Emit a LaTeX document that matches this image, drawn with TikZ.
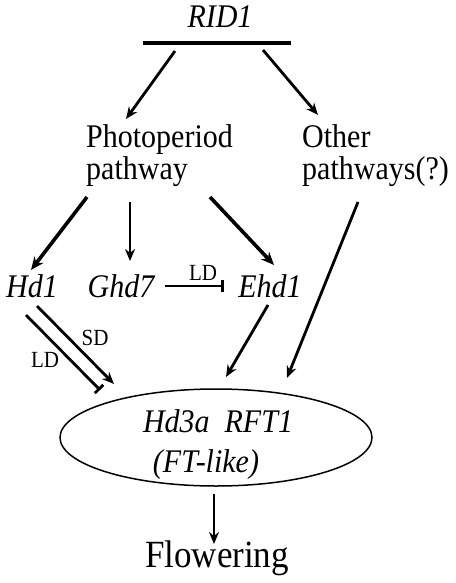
\documentclass[tikz,border=0pt]{standalone}
\usepackage{fontspec}
\setmainfont{Liberation Serif}
\usetikzlibrary{arrows.meta,shapes.geometric}
\newcommand{\vtx}[1]{\scalebox{1}[1.1]{#1}}
\tikzset{
  lbl/.style={font=\fontsize{30}{33}\selectfont, inner sep=0pt, anchor=base},
  lblw/.style={lbl, anchor=base west},
  small/.style={font=\fontsize{21}{23}\selectfont, inner sep=0pt, anchor=base},
  act/.style={line width=2.8pt, -{Stealth[length=12pt,width=10pt]}},
  thickact/.style={line width=3.6pt, -{Stealth[length=13pt,width=11pt]}},
  inh/.style={line width=2.8pt, -{Bar[width=12pt,line width=2.8pt]}},
}
\begin{document}
\begin{tikzpicture}[x=1pt,y=-1pt]
\useasboundingbox (0,0) rectangle (455,583);
% texts
\node[lbl] (rid) at (220,28) {\vtx{\itshape RID1}};
\node[lblw] (photo1) at (86,147) {\vtx{Photoperiod}};
\node[lblw] (photo2) at (86,179) {\vtx{pathway}};
\node[lblw] (other1) at (302,147) {\vtx{Other}};
\node[lblw] (other2) at (302,179) {\vtx{pathways(?)}};
\node[lbl] (hd1) at (32,297) {\vtx{\itshape Hd1}};
\node[lbl] (ghd7) at (121,297) {\vtx{\itshape Ghd7}};
\node[lbl] (ehd1) at (270,297) {\vtx{\itshape Ehd1}};
\node[small] (ld1) at (203,280) {\vtx{LD}};
\node[small] (sd) at (95,345) {\vtx{SD}};
\node[small] (ld2) at (45,367) {\vtx{LD}};
\node[draw, ellipse, line width=1.5pt, minimum width=312pt, minimum height=97pt, inner sep=0pt] (ft) at (216,437.5) {};
\node[lbl] (hd3a) at (218,432) {\vtx{\itshape Hd3a\ \ RFT1}};
\node[lbl] (ftlike) at (206,472) {\vtx{\itshape (FT-like)}};
\node[font=\fontsize{35}{40}\selectfont, inner sep=0pt, anchor=base] (flow) at (217,567) {\vtx{Flowering}};
% coordinates
\coordinate (barL) at (143,43);
\coordinate (barR) at (291,43);
\coordinate (a1s) at (175,51);
\coordinate (a1e) at (126,119);
\coordinate (a2s) at (263,50);
\coordinate (a2e) at (318,115);
\coordinate (p1s) at (87,197);
\coordinate (p1e) at (31,270);
\coordinate (p2s) at (130,202);
\coordinate (p2e) at (130,261);
\coordinate (p3s) at (210,197);
\coordinate (p3e) at (274,265);
\coordinate (gs) at (165,286);
\coordinate (ge) at (224,286);
\coordinate (sds) at (37,306);
\coordinate (sde) at (114,384);
\coordinate (lds) at (26,315);
\coordinate (lde) at (100,390);
\coordinate (es) at (268,305);
\coordinate (ee) at (226,377);
\coordinate (os) at (358,202);
\coordinate (oe) at (287,378);
\coordinate (fs) at (214,494);
\coordinate (fe) at (214,544);
% connectors
\draw[line width=3.2pt] (barL) -- (barR);
\draw[act] (a1s) -- (a1e);
\draw[act] (a2s) -- (a2e);
\draw[thickact] (p1s) -- (p1e);
\draw[act] (p2s) -- (p2e);
\draw[thickact] (p3s) -- (p3e);
\draw[inh] (gs) -- (ge);
\draw[act] (sds) -- (sde);
\draw[inh] (lds) -- (lde);
\draw[act] (es) -- (ee);
\draw[act] (os) -- (oe);
\draw[act] (fs) -- (fe);
\end{tikzpicture}
\end{document}
